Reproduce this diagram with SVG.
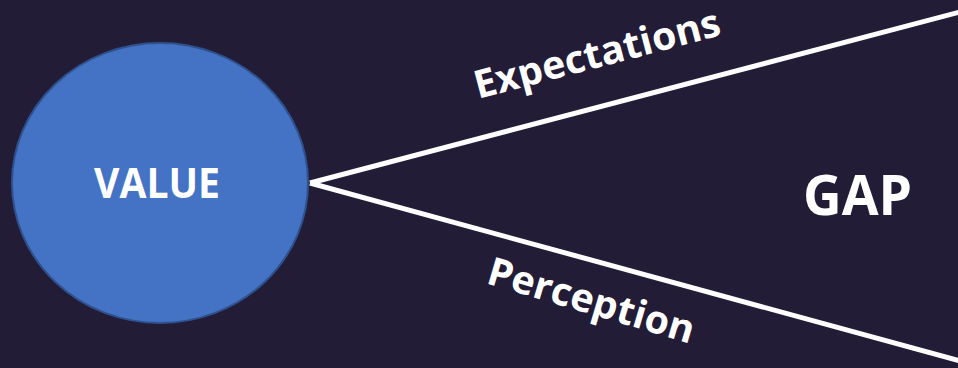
<svg xmlns="http://www.w3.org/2000/svg" width="958" height="368" viewBox="0 0 958 368">
<style>
.lbl{font-family:"Open Sans","Liberation Sans",sans-serif;font-weight:bold;fill:#ffffff}
.conn{stroke:#ffffff;stroke-width:5;fill:none;stroke-linecap:butt}
</style>
<rect x="0" y="0" width="958" height="368" fill="#221c36"/>
<g id="value">
<ellipse cx="160" cy="183" rx="148" ry="140" fill="#4472c4" stroke="#2f528f" stroke-width="2"/>
<text class="lbl" x="157" y="198" font-size="42" text-anchor="middle" textLength="126" lengthAdjust="spacingAndGlyphs">VALUE</text>
</g>
<g id="connectors">
<line class="conn" x1="310" y1="183" x2="960" y2="12"/>
<line class="conn" x1="310" y1="183" x2="960" y2="361"/>
</g>
<g id="expectations">
<text class="lbl" font-size="39" transform="translate(478,99) rotate(-14.7)" textLength="253" lengthAdjust="spacingAndGlyphs">Expectations</text>
</g>
<g id="perception">
<text class="lbl" font-size="39" transform="translate(485,283) rotate(16.5)" textLength="214" lengthAdjust="spacingAndGlyphs">Perception</text>
</g>
<g id="gap">
<text class="lbl" x="803" y="215" font-size="55" textLength="109" lengthAdjust="spacingAndGlyphs">GAP</text>
</g>
</svg>
